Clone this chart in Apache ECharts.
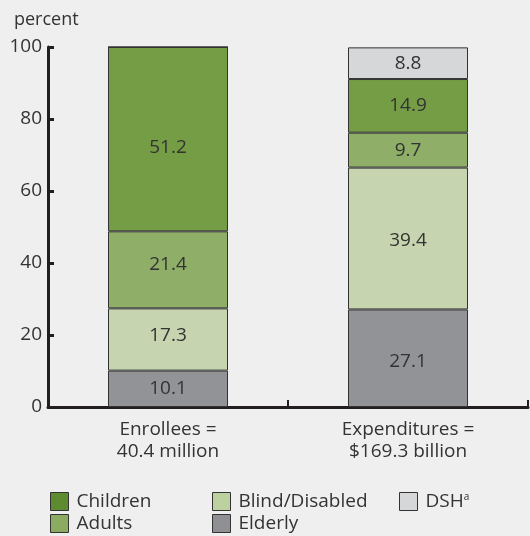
<!DOCTYPE html>
<html>
<head>
<meta charset="UTF-8">
<style>
  html, body { margin: 0; padding: 0; background: #eeefee; }
  #chart { width: 530px; height: 536px; }
</style>
<script src="https://cdn.jsdelivr.net/npm/echarts@6/dist/echarts.min.js"></script>
</head>
<body>
<div id="chart"></div>
<script>
  var categories = ['Enrollees =\n40.4 million', 'Expenditures =\n$169.3 billion'];
  var elderly = [10.1, 27.1];
  var blindDisabled = [17.3, 39.4];
  var adults = [21.4, 9.7];
  var children = [51.2, 14.9];
  var dsh = [0, 8.8];
  var yTicks = [0, 20, 40, 60, 80, 100];

  var font = '"Open Sans", "Noto Sans", sans-serif';
  var txt = '#333333';
  var fs = 19;

  // some labels sit a little off centre in the original
  function mk(name, data, color, offsets) {
    return {
      name: name,
      type: 'bar',
      stack: 'total',
      barWidth: 120,
      data: data.map(function (v, i) {
        var d = { value: v };
        if (offsets && offsets[i]) d.label = { offset: [0, offsets[i]] };
        return d;
      }),
      itemStyle: { color: color, borderColor: '#333333', borderWidth: 1 },
      label: {
        show: true,
        position: 'inside',
        fontSize: fs,
        fontFamily: font,
        color: txt,
        formatter: function (p) { return p.value > 0 ? p.value.toFixed(1) : ''; }
      }
    };
  }

  var legendText = {
    fontSize: fs,
    fontFamily: font,
    color: txt,
    padding: [0, 0, 0, 3],
    rich: { sup: { fontSize: 10, fontFamily: font, color: txt, verticalAlign: 'top', padding: [0, 0, 9, 0] } }
  };
  function legend(left, top, name, swatch) {
    return {
      left: left,
      top: top,
      orient: 'horizontal',
      itemWidth: 18,
      itemHeight: 18,
      itemGap: 0,
      icon: 'rect',
      padding: 0,
      data: [{ name: name, itemStyle: { color: swatch, borderColor: '#333333', borderWidth: 1 } }],
      textStyle: legendText,
      formatter: function (n) { return n === 'DSH' ? 'DSH{sup|a}' : n; }
    };
  }

  var chart = echarts.init(document.getElementById('chart'));
  chart.setOption({
    backgroundColor: '#eeefee',
    animation: false,
    grid: { left: 48, right: 2, top: 47, bottom: 129, containLabel: false },
    title: {
      text: 'percent',
      left: 9,
      top: 6,
      textStyle: { fontSize: fs - 1, fontWeight: 'normal', fontFamily: font, color: txt }
    },
    legend: [
      legend(50, 492, 'Children', '#5e8b2f'),
      legend(50, 514, 'Adults', '#8aab60'),
      legend(212, 492, 'Blind/Disabled', '#bdd09f'),
      legend(212, 514, 'Elderly', '#8f9093'),
      legend(399, 492, 'DSH', '#d6d7d9')
    ],
    xAxis: {
      type: 'category',
      data: categories,
      axisLine: { lineStyle: { color: '#231f20', width: 3 } },
      axisTick: { show: true, inside: true, length: 7, lineStyle: { color: '#231f20', width: 2 } },
      axisLabel: { fontSize: fs, fontFamily: font, color: txt, lineHeight: 22, margin: 12 }
    },
    yAxis: {
      type: 'value',
      min: yTicks[0],
      max: yTicks[yTicks.length - 1],
      interval: 20,
      axisLine: { show: true, lineStyle: { color: '#231f20', width: 3 } },
      axisTick: { show: true, inside: true, length: 6, lineStyle: { color: '#231f20', width: 3 } },
      axisLabel: { fontSize: fs, fontFamily: font, color: txt, margin: 6 },
      splitLine: { show: false }
    },
    series: [
      mk('Elderly', elderly, '#929396', [0, 3]),
      mk('Blind/Disabled', blindDisabled, '#c6d5b0', [-4, 2]),
      mk('Adults', adults, '#8fae67', [-5, 0]),
      mk('Children', children, '#759d45', [8, 0]),
      mk('DSH', dsh, '#d6d7d9')
    ]
  });
</script>
</body>
</html>
